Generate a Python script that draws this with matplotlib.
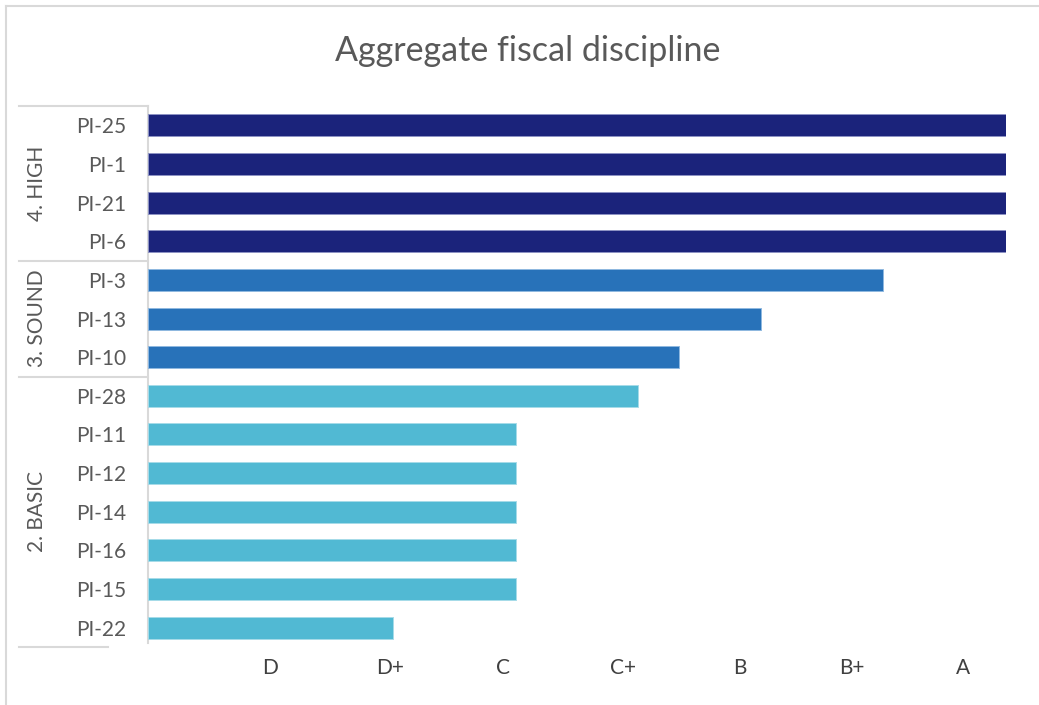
import matplotlib
matplotlib.use("Agg")
import matplotlib.pyplot as plt
from matplotlib.lines import Line2D
import matplotlib.transforms as mtransforms

# ---- data ----
indicators = ["PI-25", "PI-1", "PI-21", "PI-6", "PI-3", "PI-13", "PI-10",
              "PI-28", "PI-11", "PI-12", "PI-14", "PI-16", "PI-15", "PI-22"]
scores = [7, 7, 7, 7, 6, 5, 4.33, 4, 3, 3, 3, 3, 3, 2]
group_names = ["4. HIGH", "3. SOUND", "2. BASIC"]
group_sizes = [4, 3, 7]
grade_labels = ["D", "D+", "C", "C+", "B", "B+", "A"]
grade_label_pos = [1.0, 1.98, 2.90, 3.88, 4.83, 5.74, 6.65]
title = "Aggregate fiscal discipline"

# ---- style ----
group_colors = ["#1B237B", "#2872B9", "#51B9D3"]
edge_colors = ["#8e93c4", "#8fb8e0", "#a6dbe8"]
FONT = ["Lato", "DejaVu Sans"]
plt.rcParams["font.family"] = FONT
TXT = "#595959"
LINE = "#d9d9d9"

W, H = 1039, 705
fig = plt.figure(figsize=(W / 100, H / 100), dpi=100)
ax_left, ax_right, ax_top, ax_bot = 147.8, 1006, 106, 647
ax = fig.add_axes([ax_left / W, 1 - ax_bot / H, (ax_right - ax_left) / W, (ax_bot - ax_top) / H])

colors, edges = [], []
for gi, n in enumerate(group_sizes):
    colors += [group_colors[gi]] * n
    edges += [edge_colors[gi]] * n

ypos = list(range(len(indicators)))
ax.barh(ypos, scores, height=0.57, color=colors, edgecolor=edges, linewidth=0.7, zorder=3)

ax.set_xlim(0, 7)
ax.set_ylim(len(indicators) - 0.5, -0.5)

ax.set_yticks(ypos)
ax.set_yticklabels(indicators, fontsize=15, color=TXT)
ax.tick_params(axis="y", length=0, pad=15.5)

ax.set_xticks(grade_label_pos)
ax.set_xticklabels(grade_labels, fontsize=15, color="#404040")
ax.tick_params(axis="x", length=0, pad=8)

for s in ["top", "right", "bottom"]:
    ax.spines[s].set_visible(False)
ax.spines["left"].set_color(LINE)
ax.spines["left"].set_linewidth(1.5)
ax.spines["left"].set_bounds(-0.5, len(indicators) - 0.6)

# multi-level category separators and group labels
trans = mtransforms.blended_transform_factory(ax.transAxes, ax.transData)
x_far = (19 - ax_left) / (ax_right - ax_left)
x_short = (108 - ax_left) / (ax_right - ax_left)
x_grp = (37 - ax_left) / (ax_right - ax_left)
start = 0
bounds = [-0.5]
for gi, n in enumerate(group_sizes):
    end = start + n
    bounds.append(end - 0.5)
    ax.text(x_grp, (start + end - 1) / 2, group_names[gi], transform=trans,
            rotation=90, ha="center", va="center", fontsize=15, color=TXT)
    start = end
for i, b in enumerate(bounds):
    xr = x_short if i == len(bounds) - 1 else 0
    ax.add_line(Line2D([x_far, xr], [b, b], transform=trans, color=LINE,
                       linewidth=1.5, clip_on=False))

# title
fig.text(528 / W, 1 - 51 / H, title, ha="center", va="center", fontsize=24.5, color=TXT)

# chart border (left and top visible)
fig.add_artist(Line2D([6 / W, 6 / W], [0, 1 - 6 / H], transform=fig.transFigure, color=LINE, linewidth=1.5))
fig.add_artist(Line2D([6 / W, 1], [1 - 6 / H, 1 - 6 / H], transform=fig.transFigure, color=LINE, linewidth=1.5))

fig.savefig("out.png", dpi=100)
